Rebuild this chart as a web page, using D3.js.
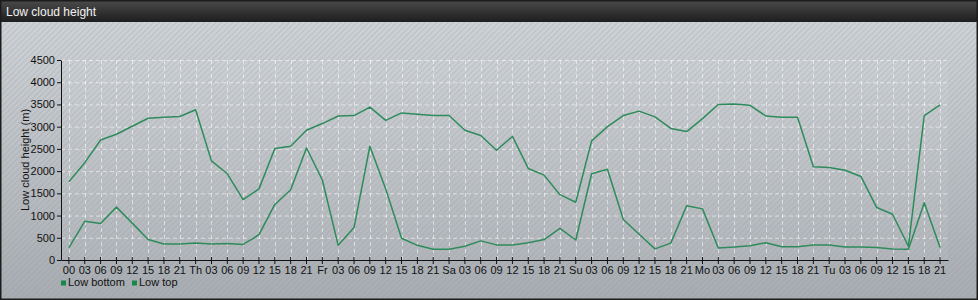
<!DOCTYPE html>
<html>
<head>
<meta charset="utf-8">
<script src="https://cdn.jsdelivr.net/npm/d3@7"></script>
<style>
  body { margin: 0; background: #fff; }
  svg { display: block; font-family: "Liberation Sans", Arial, sans-serif; }
</style>
</head>
<body>
<div id="graph"></div>
<script>
const w = 978;
const h = 300;

const days = ["We", "Th", "Fr", "Sa", "Su", "Mo", "Tu"];
const hours = ["00", "03", "06", "09", "12", "15", "18", "21"];
const yTicks = [0, 500, 1000, 1500, 2000, 2500, 3000, 3500, 4000, 4500];

const lowBottom = [
  280, 870, 820, 1190, 830, 460, 360, 360,
  380, 360, 370, 350, 570, 1250, 1580, 2520,
  1800, 330, 730, 2560, 1600, 490, 330, 240,
  240, 310, 430, 340, 340, 390, 460, 710,
  450, 1940, 2040, 910, 580, 250, 380, 1220,
  1150, 270, 290, 320, 390, 300, 300, 340,
  340, 290, 290, 280, 250, 240, 1290, 280
];
const lowTop = [
  1760, 2190, 2700, 2830, 3010, 3190, 3210, 3230,
  3380, 2230, 1940, 1360, 1600, 2510, 2560, 2920,
  3070, 3240, 3250, 3440, 3140, 3310, 3280, 3250,
  3250, 2920, 2800, 2470, 2780, 2060, 1910, 1470,
  1300, 2680, 3000, 3250, 3350, 3220, 2960, 2890,
  3180, 3500, 3510, 3480, 3240, 3210, 3210, 2100,
  2080, 2020, 1880, 1180, 1030, 310, 3250, 3490
];

// tick labels: day name replaces 00 except for the first day
const labels = [];
days.forEach((d, i) => hours.forEach((hr, j) => labels.push(j === 0 && i > 0 ? d : hr)));
const idx = d3.range(labels.length);

const pLeft = 61, pRight = 948, pTop = 60, pBottom = 260;

const svg = d3.select("#graph").append("svg").attr("width", w).attr("height", h);
const defs = svg.append("defs");

const bg = defs.append("linearGradient").attr("id", "bg").attr("x1", 0).attr("y1", 0).attr("x2", 0).attr("y2", 1);
bg.append("stop").attr("offset", "0%").attr("stop-color", "#d2d5d8");
bg.append("stop").attr("offset", "100%").attr("stop-color", "#a8acb0");

const tb = defs.append("linearGradient").attr("id", "tb").attr("x1", 0).attr("y1", 0).attr("x2", 0).attr("y2", 1);
tb.append("stop").attr("offset", "0%").attr("stop-color", "#4b4b4b");
tb.append("stop").attr("offset", "100%").attr("stop-color", "#1e1e1e");

const pat = defs.append("pattern").attr("id", "stripes").attr("patternUnits", "userSpaceOnUse")
  .attr("width", 4).attr("height", 4).attr("patternTransform", "rotate(45)");
pat.append("line").attr("x1", 0).attr("y1", 0).attr("x2", 0).attr("y2", 4)
  .attr("stroke", "#8a98a8").attr("stroke-opacity", 0.45).attr("stroke-width", 1.4);

svg.append("rect").attr("x", 0).attr("y", 0).attr("width", w).attr("height", h).attr("fill", "url(#bg)");
svg.append("rect").attr("x", 0).attr("y", 0).attr("width", w).attr("height", h).attr("fill", "url(#stripes)");

// faint plot area
svg.append("rect").attr("x", pLeft).attr("y", pTop).attr("width", pRight - pLeft).attr("height", pBottom - pTop)
  .attr("fill", "#fff").attr("fill-opacity", 0.06);

// title bar
svg.append("rect").attr("x", 0).attr("y", 0).attr("width", w).attr("height", 22).attr("fill", "url(#tb)");
svg.append("text").attr("x", 6).attr("y", 16).attr("fill", "#f2f2f2").attr("font-size", 12).text("Low cloud height");
svg.append("rect").attr("x", 0.5).attr("y", 0.5).attr("width", w - 1).attr("height", h - 1)
  .attr("fill", "none").attr("stroke", "#1c1c1c").attr("stroke-width", 2);

const x = d3.scaleBand().domain(idx).range([pLeft, pRight]);
const xc = (i) => x(i) + x.bandwidth() / 2;
const y = d3.scaleLinear().domain([0, 4500]).range([pBottom, pTop]);

// grid
const grid = svg.append("g").attr("stroke", "#fff").attr("stroke-opacity", 0.55).attr("stroke-dasharray", "4,3");
grid.selectAll("line.h").data(yTicks.slice(1)).enter().append("line")
  .attr("x1", pLeft).attr("x2", pRight).attr("y1", (d) => y(d) + 0.5).attr("y2", (d) => y(d) + 0.5);
grid.selectAll("line.v").data(idx).enter().append("line")
  .attr("x1", (d) => Math.round(xc(d)) + 0.5).attr("x2", (d) => Math.round(xc(d)) + 0.5).attr("y1", pTop).attr("y2", pBottom);

// axes
const xAxis = svg.append("g").attr("transform", `translate(0, ${pBottom})`)
  .call(d3.axisBottom(x).tickFormat((i) => labels[i]).tickSize(4).tickSizeOuter(0));
xAxis.selectAll(".tick line").attr("y1", -3);
xAxis.selectAll(".tick text").attr("font-size", 11).attr("fill", "#111").attr("dy", "0.6em");
xAxis.select(".domain").attr("stroke", "#111");

const yAxis = svg.append("g").attr("transform", `translate(${pLeft}, 0)`)
  .call(d3.axisLeft(y).tickValues(yTicks).tickFormat(d3.format("d")).tickSize(4).tickSizeOuter(0).tickPadding(2));
yAxis.selectAll(".tick text").attr("font-size", 11).attr("fill", "#111");
yAxis.select(".domain").attr("stroke", "#111");
svg.selectAll(".tick line").attr("stroke", "#111");

svg.append("text").attr("transform", `translate(29, ${(pTop + pBottom) / 2}) rotate(-90)`)
  .attr("text-anchor", "middle").attr("font-size", 11).attr("fill", "#111").text("Low cloud height (m)");

// lines
const line = d3.line().x((d, i) => xc(i)).y((d) => y(d));
[lowBottom, lowTop].forEach((s) => {
  svg.append("path").datum(s).attr("d", line).attr("fill", "none")
    .attr("stroke", "#2e8b5b").attr("stroke-width", 1.5).attr("stroke-linejoin", "round");
});

// legend
const legend = [{ name: "Low bottom", x: 61 }, { name: "Low top", x: 132 }];
const lg = svg.selectAll("g.legend").data(legend).enter().append("g").attr("transform", (d) => `translate(${d.x}, 280)`);
lg.append("rect").attr("width", 5).attr("height", 5).attr("y", 0.5).attr("fill", "#17874a");
lg.append("text").attr("x", 7).attr("y", 6).attr("font-size", 11).attr("fill", "#111").text((d) => d.name);
</script>
</body>
</html>
